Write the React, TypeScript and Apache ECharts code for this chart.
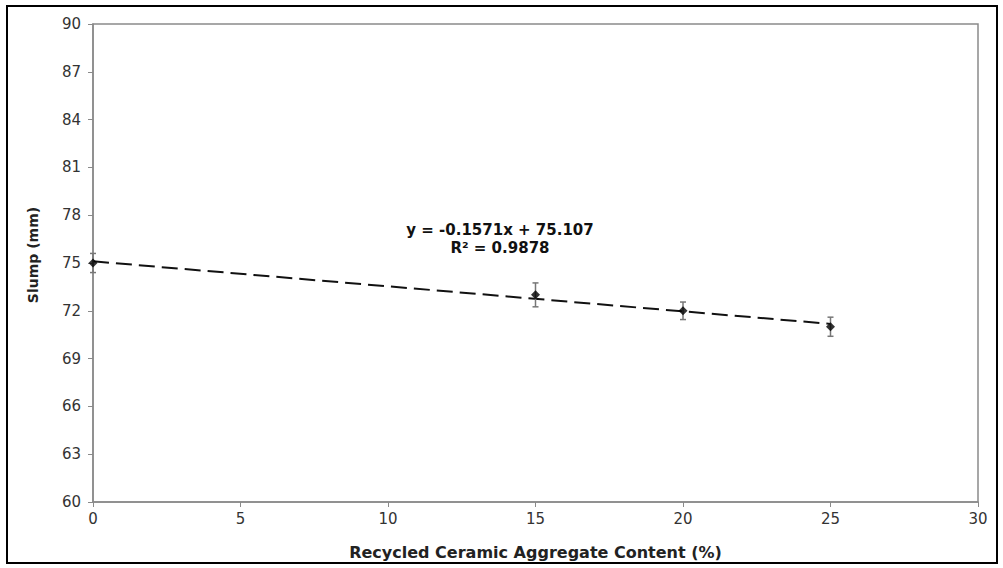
import React, { useEffect, useRef } from "react";
import * as echarts from "echarts";

const xValues = [0, 15, 20, 25];
const yValues = [75, 73, 72, 71];
const errors = [0.6, 0.75, 0.55, 0.6];
const slope = -0.1571;
const intercept = 75.107;
const trendX = [0, 25];
const equationLines = ["y = -0.1571x + 75.107", "R² = 0.9878"];

export default function App() {
  const ref = useRef<HTMLDivElement>(null);
  useEffect(() => {
    document.body.style.margin = "0";
    const chart = echarts.init(ref.current!, null, { renderer: "svg" });
    const font = "DejaVu Sans, sans-serif";
    const points = xValues.map((x, i) => [x, yValues[i]]);
    const errData = xValues.map((x, i) => [x, yValues[i] - errors[i], yValues[i] + errors[i]]);
    const trend = trendX.map((x) => [x, slope * x + intercept]);
    chart.setOption({
      animation: false,
      backgroundColor: "#fff",
      grid: {
        left: 93,
        right: 25,
        top: 24,
        bottom: 66,
        show: true,
        borderColor: "#8a8a8a",
        borderWidth: 1.5,
      },
      xAxis: {
        type: "value",
        min: 0,
        max: 30,
        interval: 5,
        name: "Recycled Ceramic Aggregate Content (%)",
        nameLocation: "middle",
        nameGap: 42,
        nameTextStyle: { fontFamily: font, fontWeight: "bold", fontSize: 16, color: "#222" },
        axisLine: { lineStyle: { color: "#8a8a8a", width: 1.5 } },
        axisTick: { show: true, length: 5, inside: false, lineStyle: { color: "#8a8a8a" } },
        axisLabel: { fontFamily: font, fontSize: 15, color: "#333", margin: 9 },
        splitLine: { show: false },
      },
      yAxis: {
        type: "value",
        min: 60,
        max: 90,
        interval: 3,
        name: "Slump (mm)",
        nameLocation: "middle",
        nameGap: 53,
        nameRotate: 90,
        nameTextStyle: { fontFamily: font, fontWeight: "bold", fontSize: 14, color: "#222", padding: [0, 0, 0, 16] },
        axisLine: { show: true, lineStyle: { color: "#8a8a8a", width: 1.5 } },
        axisTick: { show: true, length: 5, lineStyle: { color: "#8a8a8a" } },
        axisLabel: { fontFamily: font, fontSize: 15, color: "#333", margin: 12 },
        splitLine: { show: false },
      },
      graphic: [
        {
          type: "rect",
          shape: { x: 7, y: 6, width: 990, height: 557 },
          style: { fill: "none", stroke: "#000", lineWidth: 2 },
          silent: true,
        },
        {
          type: "text",
          x: 500,
          y: 221,
          style: {
            text: equationLines.join("\n"),
            fontFamily: font,
            fontWeight: "bold",
            fontSize: 15,
            lineHeight: 18,
            fill: "#111",
            align: "center",
          },
        },
      ],
      series: [
        {
          type: "line",
          data: trend,
          symbol: "none",
          lineStyle: { color: "#111", width: 2, type: [16, 7] },
          z: 2,
        },
        {
          type: "custom",
          data: errData,
          renderItem: (params: any, api: any) => {
            const x = api.value(0);
            const lo = api.coord([x, api.value(1)]);
            const hi = api.coord([x, api.value(2)]);
            const w = 3;
            const style = { stroke: "#777", lineWidth: 1.5 };
            return {
              type: "group",
              children: [
                { type: "line", shape: { x1: lo[0], y1: lo[1], x2: hi[0], y2: hi[1] }, style },
                { type: "line", shape: { x1: lo[0] - w, y1: lo[1], x2: lo[0] + w, y2: lo[1] }, style },
                { type: "line", shape: { x1: hi[0] - w, y1: hi[1], x2: hi[0] + w, y2: hi[1] }, style },
              ],
            };
          },
          z: 3,
        },
        {
          type: "scatter",
          data: points,
          symbol: "diamond",
          symbolSize: 9,
          itemStyle: { color: "#000" },
          z: 4,
        },
      ],
    });
    return () => chart.dispose();
  }, []);
  return <div ref={ref} style={{ width: 1003, height: 568 }} />;
}
